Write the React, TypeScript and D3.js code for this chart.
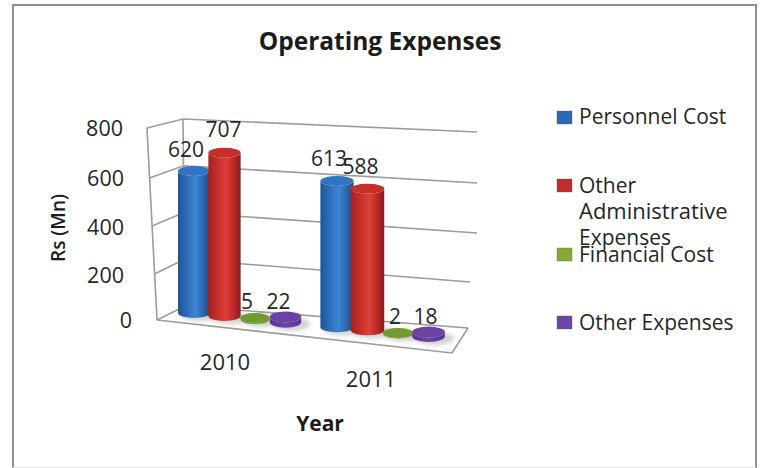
import React from "react";
import * as d3 from "d3";

// Chart content
const chartTitle = "Operating Expenses";
const years = ["2010", "2011"];
const seriesNames = ["Personnel Cost", "Other Administrative Expenses", "Financial Cost", "Other Expenses"];
const personnelCost = [620, 613];
const otherAdministrative = [707, 588];
const financialCost = [5, 2];
const otherExpenses = [22, 18];
const axisTicks = [0, 200, 400, 600, 800];
const seriesValues = [personnelCost, otherAdministrative, financialCost, otherExpenses];

const FONT = "'Open Sans', sans-serif";
const TEXT = "#262626";
const GRID = "#9c9c9c";

// Oblique projection of the box that holds the columns
const frontLeftX = d3.scaleLinear().domain([0, 800]).range([157, 147]);
const frontLeftY = d3.scaleLinear().domain([0, 200, 400, 600, 800]).range([320, 274, 226, 178, 128]);
const backLeftX = d3.scaleLinear().domain([0, 800]).range([185, 183]);
const backLeftY = d3.scaleLinear().domain([0, 800]).range([306, 119]);
const backRightX = d3.scaleLinear().domain([0, 200, 400, 800]).range([468, 470, 477, 477]);
const backRightY = d3.scaleLinear().domain([0, 200, 400, 600, 800]).range([328, 282, 233, 183, 132]);

// Column placement along the floor
const slotX = (year: number, series: number) => 194 + 30.5 * series + 143 * year;
const baseY = d3.scaleLinear().domain([194, 431]).range([313, 336.7]);
const pxPerUnit = d3.scaleLinear().domain([194, 370]).range([0.229, 0.241]);
const radius = d3.scaleLinear().domain([194, 431]).range([16, 17]);

const bodyStops = [
  [["#215495", 0], ["#2f6fbd", 0.3], ["#3d86d2", 0.55], ["#2a64ad", 0.8], ["#1d4a85", 1]],
  [["#a42020", 0], ["#c92f2c", 0.3], ["#dd4039", 0.55], ["#b82827", 0.8], ["#8c1b1b", 1]],
  [["#5f8526", 0], ["#77a532", 0.5], ["#5f8526", 1]],
  [["#5a3490", 0], ["#6c44a6", 0.5], ["#573290", 1]],
] as [string, number][][];
const capColors = ["#3074c2", "#c92d2b", "#6f9c2c", "#6a42a4"];
const swatchColors = ["#2b68b2", "#bf2d2d", "#86ab35", "#6a45a3"];
const widthFactor = [1, 1, 0.9, 0.96];
const capHeight = [5, 5, 5, 5.5];

// Value label nudges, keyed by year then series
const labelShiftX = [[-8, -1, -8, -7], [-8, -7, -3, -3]];
const labelShiftY = [[-22, -23, -16, -15], [-22, -22, -16, -16]];

// Tick label and legend placement
const tickLabelX = [132, 124, 124, 124, 123];
const tickLabelY = [328, 283, 235, 186, 136];
const legendRows = [
  { swatch: 117, lines: [["Personnel Cost", 124]] },
  { swatch: 185, lines: [["Other", 193], ["Administrative", 219], ["Expenses", 245]] },
  { swatch: 254, lines: [["Financial Cost", 262]] },
  { swatch: 322, lines: [["Other Expenses", 330]] },
] as { swatch: number; lines: [string, number][] }[];
const yearLabels = [[225, 370], [371, 387]];

function Column({ year, series }: { year: number; series: number }) {
  const value = seriesValues[series][year];
  const cx = slotX(year, series);
  const by = baseY(cx);
  const top = by - value * pxPerUnit(cx);
  const rx = radius(cx) * widthFactor[series];
  const ry = capHeight[series];
  const body = `M${cx - rx},${top} L${cx - rx},${by} A${rx},${ry} 0 0 0 ${cx + rx},${by} L${cx + rx},${top} A${rx},${ry} 0 0 1 ${cx - rx},${top} Z`;
  return (
    <g>
      <ellipse cx={cx + 6} cy={by + 2} rx={rx + 3} ry={ry + 1} fill="#8a8a8a" opacity={0.4} filter="url(#soft)" />
      <path d={body} fill={`url(#body${series})`} />
      <ellipse cx={cx} cy={top} rx={rx} ry={ry} fill={capColors[series]} />
      <text
        x={cx + labelShiftX[year][series]}
        y={top + labelShiftY[year][series] + 7.5}
        textAnchor="middle"
        fontSize={21}
        fill={TEXT}
      >
        {value}
      </text>
    </g>
  );
}

export default function App() {
  return (
    <svg
      width={764}
      height={468}
      viewBox="0 0 764 468"
      fontFamily={FONT}
      style={{ position: "fixed", left: 0, top: 0, background: "#fff" }}
    >
      <defs>
        {bodyStops.map((stops, i) => (
          <linearGradient key={i} id={`body${i}`} x1="0" x2="1" y1="0" y2="0">
            {stops.map(([color, offset]) => (
              <stop key={offset} offset={offset} stopColor={color} />
            ))}
          </linearGradient>
        ))}
        <filter id="soft" x="-30%" y="-60%" width="160%" height="220%">
          <feGaussianBlur stdDeviation="2" />
        </filter>
      </defs>

      {/* Outer border */}
      <rect x={13} y={5} width={743} height={470} fill="#fff" stroke="#8e8e8e" strokeWidth={2} />
      <line x1={13} x2={756} y1={467} y2={467} stroke="#e6e6e6" strokeWidth={1} />

      <text x={380} y={50} textAnchor="middle" fontSize={24.5} fontWeight={700} fill="#1c1c1c">
        {chartTitle}
      </text>

      {/* Walls and floor */}
      <g fill="none" stroke={GRID} strokeWidth={1.6}>
        {axisTicks.map((t) => (
          <polyline
            key={t}
            points={`${frontLeftX(t)},${frontLeftY(t)} ${backLeftX(t)},${backLeftY(t)} ${backRightX(t)},${backRightY(t)}`}
          />
        ))}
        <line x1={frontLeftX(0)} y1={frontLeftY(0)} x2={frontLeftX(800)} y2={frontLeftY(800)} />
        <line x1={backLeftX(0)} y1={backLeftY(0)} x2={backLeftX(800)} y2={backLeftY(800)} />
        <polyline points={`${frontLeftX(0)},${frontLeftY(0)} 452,353 ${backRightX(0)},${backRightY(0)}`} />
      </g>

      {/* Tick labels */}
      <g fontSize={21.5} fill={TEXT} textAnchor="end">
        {axisTicks.map((t, i) => (
          <text key={t} x={tickLabelX[i]} y={tickLabelY[i]}>
            {t}
          </text>
        ))}
      </g>

      {/* Columns, back to front within each year */}
      {years.map((_, y) => (
        <g key={y}>
          {seriesNames.map((_, s) => (
            <Column key={s} year={y} series={s} />
          ))}
        </g>
      ))}

      {/* Category labels */}
      <g fontSize={22} fill={TEXT} textAnchor="middle">
        {years.map((year, i) => (
          <text key={year} x={yearLabels[i][0]} y={yearLabels[i][1]}>
            {year}
          </text>
        ))}
      </g>

      {/* Axis titles */}
      <text x={320} y={431} textAnchor="middle" fontSize={21} fontWeight={700} fill="#1c1c1c">
        Year
      </text>
      <text
        transform="translate(65,228) rotate(-90)"
        textAnchor="middle"
        fontSize={19}
        fontWeight={600}
        fill="#1c1c1c"
      >
        Rs (Mn)
      </text>

      {/* Legend */}
      {legendRows.map((row, i) => (
        <g key={i}>
          <rect x={557} y={row.swatch - 6} width={15} height={13} fill={swatchColors[i]} stroke="#5a5a5a" strokeOpacity={0.35} />
          {row.lines.map(([label, y]) => (
            <text key={label} x={579} y={y} fontSize={label === "Administrative" ? 22 : 21} fill={TEXT}>
              {label}
            </text>
          ))}
        </g>
      ))}
    </svg>
  );
}
